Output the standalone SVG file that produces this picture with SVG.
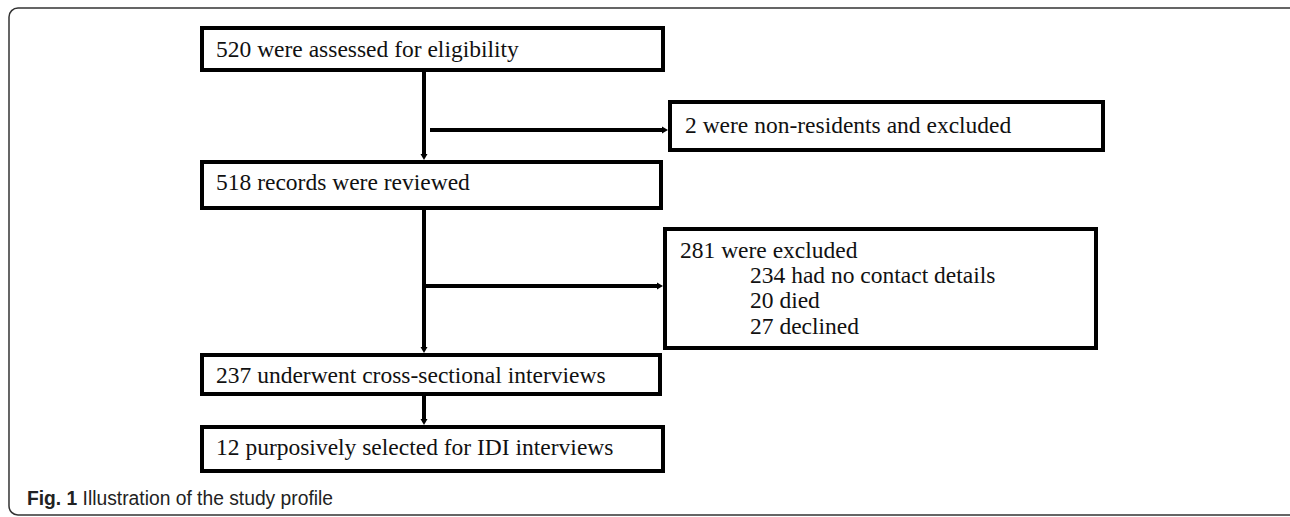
<svg xmlns="http://www.w3.org/2000/svg" width="1290" height="517" viewBox="0 0 1290 517">
<defs>
<style>
.box{fill:#fff;stroke:#000;stroke-width:4}
.t{font-family:"Liberation Serif","Times New Roman",serif;font-size:23.5px;fill:#111}
.c{stroke:#000;stroke-width:4;fill:none}
.cap{font-family:"Liberation Sans",Arial,sans-serif;font-size:20px;fill:#222}
</style>
<marker id="ah" markerUnits="userSpaceOnUse" markerWidth="10" markerHeight="10" viewBox="0 0 10 10" refX="0" refY="5" orient="auto">
<path d="M0,1.5 L6,5 L0,8.5 Z" fill="#000"/>
</marker>
</defs>
<rect x="0" y="0" width="1290" height="517" fill="#fff"/>
<rect x="9" y="8" width="1290" height="507" rx="9" fill="none" stroke="#333" stroke-width="1.5"/>
<g id="n1"><rect class="box" x="202" y="28" width="461" height="42"/><text class="t" x="216" y="57">520 were assessed for eligibility</text></g>
<g id="n2"><rect class="box" x="670" y="102" width="433" height="48"/><text class="t" x="685" y="133">2 were non-residents and excluded</text></g>
<g id="n3"><rect class="box" x="202" y="162" width="459" height="46"/><text class="t" x="216" y="190">518 records were reviewed</text></g>
<g id="n4"><rect class="box" x="665" y="229" width="431" height="119"/>
<text class="t" x="680" y="258">281 were excluded</text>
<text class="t" x="750" y="283">234 had no contact details</text>
<text class="t" x="750" y="308">20 died</text>
<text class="t" x="750" y="334">27 declined</text></g>
<g id="n5"><rect class="box" x="202" y="355" width="458" height="39"/><text class="t" x="216" y="383">237 underwent cross-sectional interviews</text></g>
<g id="n6"><rect class="box" x="202" y="427" width="461" height="44"/><text class="t" x="216" y="455">12 purposively selected for IDI interviews</text></g>
<g id="connectors">
<line class="c" x1="424" y1="70" x2="424" y2="154" marker-end="url(#ah)"/>
<line class="c" x1="430" y1="130" x2="662" y2="130" marker-end="url(#ah)"/>
<line class="c" x1="424" y1="208" x2="424" y2="347" marker-end="url(#ah)"/>
<line class="c" x1="424" y1="286" x2="657" y2="286" marker-end="url(#ah)"/>
<line class="c" x1="424" y1="394" x2="424" y2="419" marker-end="url(#ah)"/>
</g>
<text class="cap" x="27" y="505" textLength="306" lengthAdjust="spacingAndGlyphs"><tspan font-weight="bold">Fig. 1</tspan> Illustration of the study profile</text>
</svg>
